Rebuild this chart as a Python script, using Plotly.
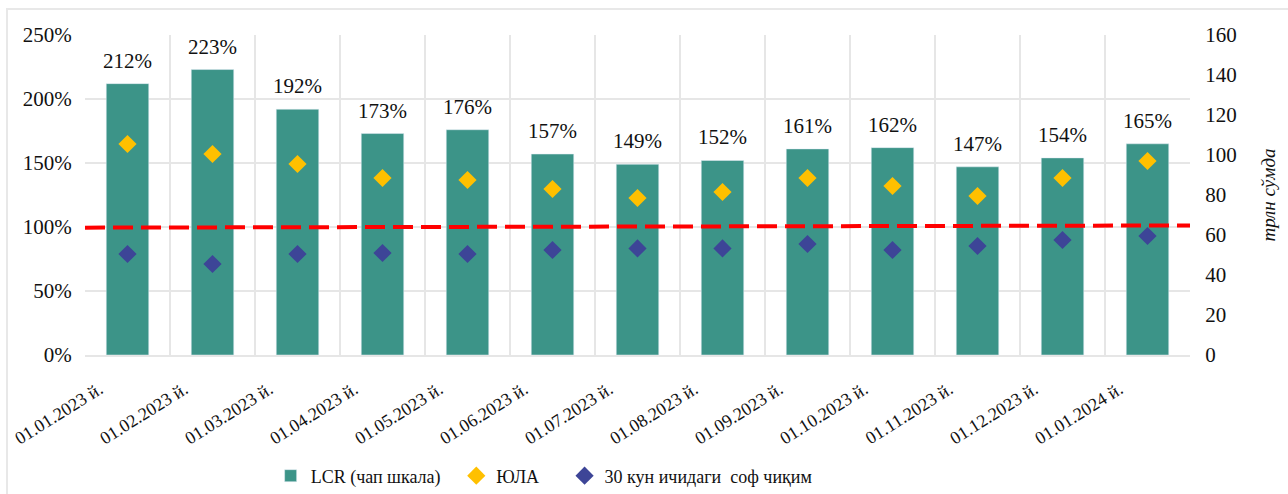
import plotly.graph_objects as go

categories = ["01.01.2023 й.", "01.02.2023 й.", "01.03.2023 й.", "01.04.2023 й.", "01.05.2023 й.",
              "01.06.2023 й.", "01.07.2023 й.", "01.08.2023 й.", "01.09.2023 й.", "01.10.2023 й.",
              "01.11.2023 й.", "01.12.2023 й.", "01.01.2024 й."]
lcr = [212, 223, 192, 173, 176, 157, 149, 152, 161, 162, 147, 154, 165]
yula = [105.5, 100.5, 95.5, 88.5, 87.5, 83, 78.5, 81.5, 88.5, 84.5, 79.5, 88.5, 97]
outflow = [50.5, 45.5, 50.5, 51, 50.5, 52.5, 53.3, 53.3, 55.5, 52.5, 54.5, 57.5, 59.5]
threshold_ends = [99.5, 101.2]

FONT = "Liberation Serif, Times New Roman, serif"
fig = go.Figure()
fig.add_trace(go.Bar(
    x=categories, y=lcr, name="LCR (чап шкала)", marker_color="#3C9488",
    width=0.5, yaxis="y", legend="legend"))
fig.add_trace(go.Scatter(
    x=categories, y=yula, name="ЮЛА", mode="markers",
    marker=dict(symbol="diamond", size=14, color="#FFC000"), yaxis="y2", legend="legend2"))
fig.add_trace(go.Scatter(
    x=categories, y=outflow, name="30 кун ичидаги  соф чиқим", mode="markers",
    marker=dict(symbol="diamond", size=14, color="#3D4597"), yaxis="y2", legend="legend3"))

for c, v in zip(categories, lcr):
    fig.add_annotation(x=c, y=v, xref="x", yref="y", text=f"{v}%", showarrow=False,
                       yanchor="bottom", yshift=9, font=dict(family=FONT, size=21, color="#111"))

fig.add_shape(type="line", xref="paper", yref="y", x0=0, x1=1,
              y0=threshold_ends[0], y1=threshold_ends[1],
              line=dict(color="#FF0000", width=4, dash="20px,8px"))
# outer frame
fig.add_shape(type="rect", xref="paper", yref="paper", x0=-0.0706, x1=1.12, y0=-0.48, y1=1.081,
              line=dict(color="#E8E8E8", width=2), layer="below")

legend_common = dict(orientation="h", y=-0.378, yanchor="middle", xanchor="left",
                     bgcolor="rgba(0,0,0,0)", font=dict(family=FONT, size=18), itemwidth=30)

fig.update_layout(
    width=1288, height=494,
    margin=dict(l=85, r=98, t=35, b=139, autoexpand=False),
    plot_bgcolor="white", paper_bgcolor="white",
    font=dict(family=FONT, size=19, color="#111"),
    bargap=0.5,
    xaxis=dict(range=[-0.5, 12.5], tickangle=-32, tickson="boundaries", showgrid=True,
               gridcolor="#E6E6E6", gridwidth=2,
               showline=True, linecolor="#E6E6E6", linewidth=2, ticks="", automargin=False,
               ticklabelshift=-28, ticklabelstandoff=15,
               tickfont=dict(family=FONT, size=18)),
    yaxis=dict(range=[0, 250], dtick=50, ticksuffix="%", showgrid=True, gridcolor="#E6E6E6",
               gridwidth=2, zeroline=False, tickfont=dict(family=FONT, size=21), ticklen=8,
               ticks="outside", tickcolor="white", automargin=False),
    yaxis2=dict(range=[0, 160], dtick=20, overlaying="y", side="right", showgrid=False,
                zeroline=False, tickfont=dict(family=FONT, size=21), ticks="outside",
                tickcolor="white", ticklen=10, automargin=False,
                title=dict(text="<i>трлн сўмда</i>", font=dict(family=FONT, size=19), standoff=25)),
    legend=dict(x=0.168, **legend_common),
    legend2=dict(x=0.336, **legend_common),
    legend3=dict(x=0.434, **legend_common),
    showlegend=True,
)
fig.write_html("out.html", post_script="document.body.style.margin='0';",
               config={"displayModeBar": False})
